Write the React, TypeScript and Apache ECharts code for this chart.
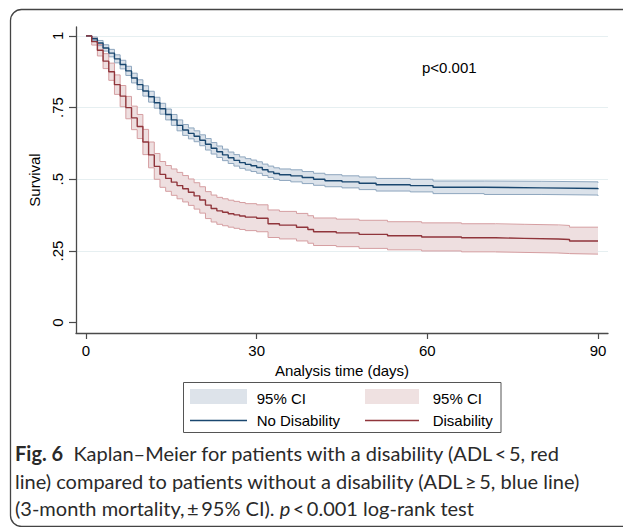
import React, { useEffect, useRef } from 'react';
import * as echarts from 'echarts';

// ---- Data ----
const blueTimes = [0, 1, 2, 3, 4, 5, 6, 7, 8, 9, 10, 11, 12, 13, 14, 15, 16, 17, 18, 19, 20, 21, 22, 23, 24, 25, 26, 27, 28, 29, 30, 31, 32, 33, 34, 36, 38, 40, 42, 45, 48, 51, 57, 61, 70, 80, 90];
const blueSurv = [1, 0.99, 0.975, 0.958, 0.94, 0.92, 0.9, 0.878, 0.853, 0.83, 0.808, 0.788, 0.767, 0.746, 0.726, 0.707, 0.688, 0.672, 0.66, 0.65, 0.636, 0.622, 0.608, 0.596, 0.585, 0.575, 0.566, 0.558, 0.552, 0.547, 0.541, 0.533, 0.526, 0.52, 0.516, 0.512, 0.506, 0.5, 0.495, 0.491, 0.486, 0.481, 0.478, 0.472, 0.47, 0.468, 0.465];
const blueUpper = [1, 0.996, 0.984, 0.969, 0.953, 0.934, 0.915, 0.894, 0.87, 0.847, 0.826, 0.807, 0.786, 0.765, 0.745, 0.726, 0.707, 0.691, 0.679, 0.669, 0.655, 0.642, 0.628, 0.616, 0.605, 0.595, 0.586, 0.578, 0.572, 0.567, 0.561, 0.553, 0.546, 0.54, 0.536, 0.533, 0.527, 0.521, 0.516, 0.512, 0.508, 0.503, 0.5, 0.494, 0.493, 0.491, 0.488];
const blueLower = [1, 0.984, 0.966, 0.947, 0.927, 0.906, 0.885, 0.862, 0.836, 0.813, 0.79, 0.769, 0.748, 0.727, 0.707, 0.688, 0.669, 0.653, 0.641, 0.631, 0.617, 0.602, 0.588, 0.576, 0.565, 0.555, 0.546, 0.538, 0.532, 0.527, 0.521, 0.513, 0.506, 0.5, 0.496, 0.491, 0.485, 0.479, 0.474, 0.47, 0.464, 0.459, 0.456, 0.45, 0.447, 0.445, 0.442];

const redTimes = [0, 1, 2, 3, 4, 5, 6, 7, 8, 9, 10, 11, 12, 13, 14, 15, 16, 17, 18, 19, 20, 21, 22, 23, 24, 25, 26, 27, 28, 30, 32, 34, 37, 39, 40, 44, 48, 53, 59, 66, 72, 77, 83, 85, 90];
const redSurv = [1, 0.98, 0.95, 0.912, 0.875, 0.83, 0.79, 0.75, 0.714, 0.684, 0.63, 0.585, 0.545, 0.517, 0.503, 0.49, 0.478, 0.467, 0.455, 0.442, 0.428, 0.41, 0.398, 0.39, 0.385, 0.38, 0.376, 0.372, 0.368, 0.364, 0.345, 0.34, 0.333, 0.325, 0.317, 0.313, 0.308, 0.303, 0.299, 0.296, 0.294, 0.292, 0.29, 0.285, 0.283];
const redUpper = [1, 0.992, 0.97, 0.938, 0.905, 0.864, 0.827, 0.789, 0.755, 0.726, 0.674, 0.63, 0.59, 0.562, 0.548, 0.536, 0.524, 0.513, 0.501, 0.488, 0.474, 0.457, 0.445, 0.437, 0.432, 0.427, 0.423, 0.419, 0.415, 0.411, 0.393, 0.388, 0.381, 0.373, 0.365, 0.361, 0.357, 0.352, 0.348, 0.345, 0.343, 0.341, 0.339, 0.333, 0.331];
const redLower = [1, 0.968, 0.93, 0.886, 0.845, 0.796, 0.753, 0.711, 0.673, 0.642, 0.586, 0.54, 0.5, 0.472, 0.458, 0.444, 0.432, 0.421, 0.409, 0.396, 0.382, 0.363, 0.351, 0.343, 0.338, 0.333, 0.329, 0.325, 0.321, 0.317, 0.297, 0.292, 0.285, 0.277, 0.269, 0.265, 0.259, 0.254, 0.25, 0.247, 0.245, 0.243, 0.241, 0.239, 0.237];

const xTicks = [0, 30, 60, 90];
const yTicks = [0, 0.25, 0.5, 0.75, 1];
const yGridTicks = [0.25, 0.5, 0.75, 1];
const yTickLabels = ['0', '.25', '.5', '.75', '1'];

const xMin = -1.76;
const xMax = 91.76;
const yMin = -0.036;
const yMax = 1.031;

const BLUE = '#1a476f';
const BLUE_FILL = '#dbe2ea';
const BLUE_EDGE = '#8ea6be';
const RED = '#90353b';
const RED_FILL = '#eedfe0';
const RED_EDGE = '#d59ea1';
const AXIS = '#4a4a4a';
const FONT = '"Liberation Sans", Arial, sans-serif';
const CAP_FONT = 'Lato, "Open Sans", sans-serif';
const CAP_SIZE = 20;
const CAP_COLOR = '#2a2a2a';

const pairs = (t: number[], v: number[]) => t.map((x, i) => [x, v[i]]);

function bandSeries(times: number[], lo: number[], hi: number[], fill: string) {
  return {
    type: 'custom',
    silent: true,
    z: 1,
    data: times.map((t, i) => [t, lo[i], hi[i]]),
    encode: { x: 0, y: [1, 2] },
    renderItem: (params: any, api: any) => {
      if (params.dataIndex !== 0) return null;
      const pts: number[][] = [];
      const n = times.length;
      for (let i = 0; i < n; i++) {
        pts.push(api.coord([times[i], hi[i]]));
        if (i < n - 1) pts.push(api.coord([times[i + 1], hi[i]]));
      }
      for (let i = n - 1; i >= 0; i--) {
        if (i < n - 1) pts.push(api.coord([times[i + 1], lo[i]]));
        pts.push(api.coord([times[i], lo[i]]));
      }
      return { type: 'polygon', shape: { points: pts }, style: { fill, stroke: null } };
    },
  };
}

function stepLine(times: number[], vals: number[], color: string, width: number, z: number) {
  return {
    type: 'line',
    step: 'end',
    data: pairs(times, vals),
    symbol: 'none',
    showSymbol: false,
    silent: true,
    z,
    lineStyle: { color, width },
  };
}

const txt = (text: string, x: number, y: number, extra: any = {}) => ({
  type: 'text',
  x,
  y,
  silent: true,
  style: {
    text,
    fill: '#000',
    fontSize: 15,
    fontFamily: FONT,
    align: 'left',
    verticalAlign: 'middle',
    ...extra,
  },
});

export default function App() {
  const ref = useRef<HTMLDivElement>(null);
  useEffect(() => {
    document.body.style.margin = '0';
    const chart = echarts.init(ref.current!, null, { renderer: 'svg' });
    const option: any = {
      animation: false,
      backgroundColor: '#fff',
      textStyle: { fontFamily: FONT },
      grid: { left: 76, right: 15, top: 27, bottom: 194, containLabel: false, outerBoundsMode: 'none' },
      xAxis: {
        type: 'value',
        min: xMin,
        max: xMax,
        axisLine: { show: true, onZero: false, lineStyle: { color: AXIS, width: 1.3 } },
        axisTick: { show: true, length: 6, customValues: xTicks, lineStyle: { color: AXIS, width: 1.2 } },
        axisLabel: { customValues: xTicks, fontSize: 15, color: '#000', fontFamily: FONT, margin: 10, formatter: (v: number) => String(v) },
        splitLine: { show: false },
        name: 'Analysis time (days)',
        nameLocation: 'middle',
        nameGap: 27,
        nameTextStyle: { fontSize: 15, color: '#000', fontFamily: FONT },
      },
      yAxis: [
        {
          type: 'value',
          min: yMin,
          max: yMax,
          axisLine: { show: true, onZero: false, lineStyle: { color: AXIS, width: 1.3 } },
          axisTick: { show: true, length: 7, customValues: yTicks, lineStyle: { color: AXIS, width: 1.2 } },
          axisLabel: {
            customValues: yTicks,
            rotate: 90,
            fontSize: 15,
            color: '#000',
            fontFamily: FONT,
            margin: 11,
            formatter: (v: number) => {
              const i = yTicks.findIndex((t) => Math.abs(t - v) < 1e-6);
              return i >= 0 ? yTickLabels[i] : '';
            },
          },
          splitLine: { show: false },
          name: 'Survival',
          nameLocation: 'middle',
          nameGap: 27,
          nameRotate: 90,
          nameTextStyle: { fontSize: 15, color: '#000', fontFamily: FONT },
        },
        {
          type: 'value',
          min: yMin,
          max: yMax,
          position: 'left',
          axisLine: { show: false },
          axisTick: { show: false, customValues: yGridTicks },
          axisLabel: { show: false },
          splitLine: { show: true, lineStyle: { color: '#e6eff1', width: 1 } },
        },
      ],
      series: [
        bandSeries(blueTimes, blueLower, blueUpper, BLUE_FILL),
        bandSeries(redTimes, redLower, redUpper, RED_FILL),
        stepLine(blueTimes, blueUpper, BLUE_EDGE, 1, 2),
        stepLine(blueTimes, blueLower, BLUE_EDGE, 1, 2),
        stepLine(redTimes, redUpper, RED_EDGE, 1, 2),
        stepLine(redTimes, redLower, RED_EDGE, 1, 2),
        stepLine(blueTimes, blueSurv, BLUE, 1.4, 3),
        stepLine(redTimes, redSurv, RED, 1.4, 3),
      ],
      graphic: [
        {
          type: 'rect',
          silent: true,
          shape: { x: 10.5, y: 9.5, width: 660, height: 517, r: 11 },
          style: { fill: 'none', stroke: '#444', lineWidth: 1.3 },
        },
        txt('p<0.001', 422, 67),
        {
          type: 'rect',
          silent: true,
          shape: { x: 183.5, y: 382.5, width: 317.5, height: 50 },
          style: { fill: '#fff', stroke: '#555', lineWidth: 1 },
        },
        { type: 'rect', silent: true, shape: { x: 190, y: 389, width: 57, height: 15 }, style: { fill: '#dde3ea' } },
        { type: 'rect', silent: true, shape: { x: 365, y: 389, width: 54, height: 15 }, style: { fill: '#efe1e1' } },
        { type: 'line', silent: true, shape: { x1: 190, y1: 420.5, x2: 247, y2: 420.5 }, style: { stroke: BLUE, lineWidth: 1.4 } },
        { type: 'line', silent: true, shape: { x1: 365, y1: 420.5, x2: 419, y2: 420.5 }, style: { stroke: RED, lineWidth: 1.4 } },
        txt('95% CI', 256.7, 398),
        txt('No Disability', 256.7, 420),
        txt('95% CI', 432.7, 398),
        txt('Disability', 432.7, 420),
        {
          type: 'text',
          x: 15,
          y: 453,
          silent: true,
          style: {
            text: '{b|Fig. 6}  Kaplan–Meier for patients with a disability (ADL\u2009<\u20095, red',
            fill: CAP_COLOR,
            fontSize: CAP_SIZE,
            fontFamily: CAP_FONT,
            verticalAlign: 'middle',
            rich: { b: { fontWeight: 'bold', fontSize: CAP_SIZE, fontFamily: CAP_FONT, fill: CAP_COLOR } },
          },
        },
        {
          type: 'text',
          x: 15,
          y: 481,
          silent: true,
          style: {
            text: 'line) compared to patients without a disability (ADL\u2009≥\u20095, blue line)',
            fill: CAP_COLOR,
            fontSize: CAP_SIZE,
            fontFamily: CAP_FONT,
            verticalAlign: 'middle',
          },
        },
        {
          type: 'text',
          x: 15,
          y: 508,
          silent: true,
          style: {
            text: '(3-month mortality,\u2009±\u200995% CI). {i|p}\u2009<\u20090.001 log-rank test',
            fill: CAP_COLOR,
            fontSize: CAP_SIZE,
            fontFamily: CAP_FONT,
            verticalAlign: 'middle',
            rich: { i: { fontStyle: 'italic', fontSize: CAP_SIZE, fontFamily: CAP_FONT, fill: CAP_COLOR } },
          },
        },
      ],
    };
    chart.setOption(option);
    return () => chart.dispose();
  }, []);
  return <div ref={ref} style={{ width: 623, height: 527 }} />;
}
